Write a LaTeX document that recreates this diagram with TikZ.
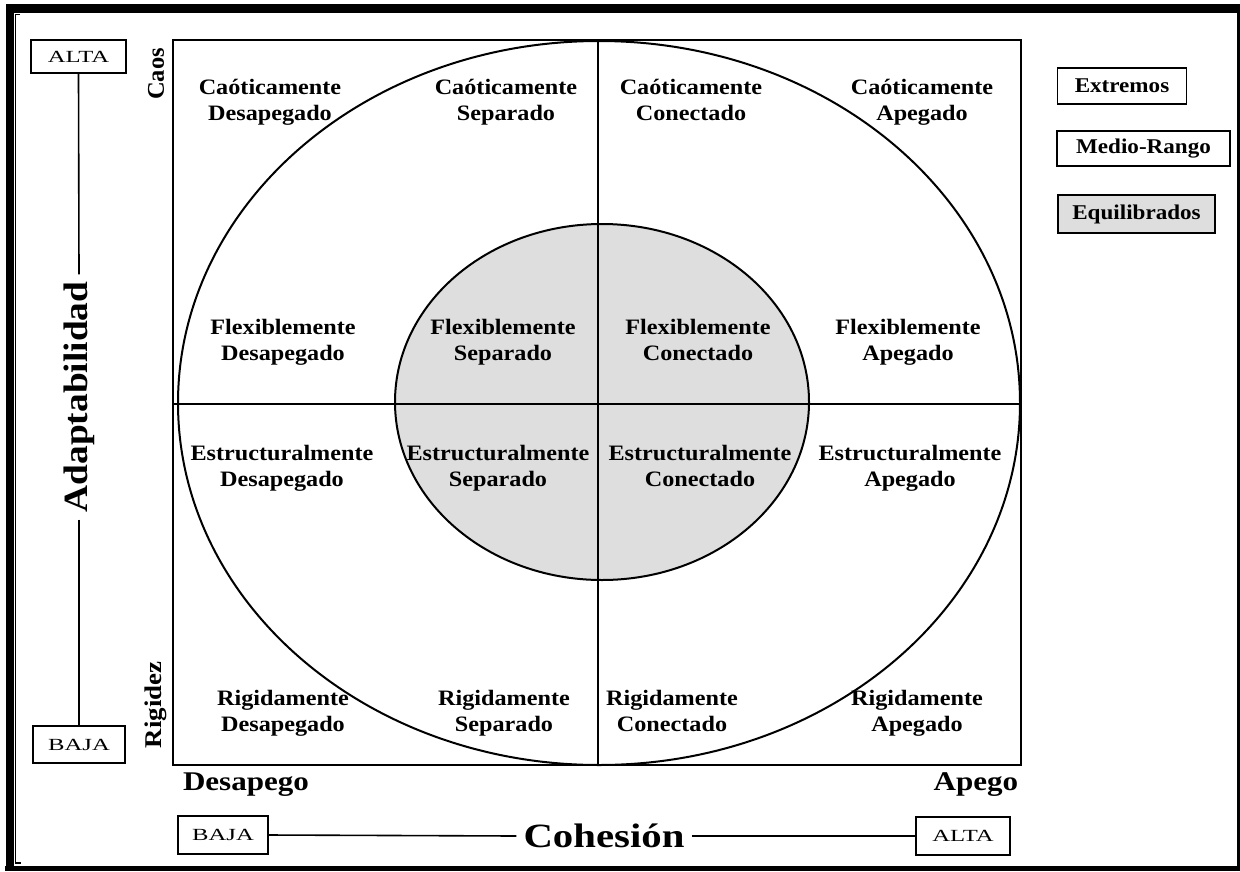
\documentclass[tikz,border=0pt]{standalone}
\usepackage{fontspec}
\setmainfont{Liberation Serif}
\newcommand{\sx}[2][1.1]{\scalebox{#1}[1]{#2}}
\newcommand{\lab}[5]{%
  \node[lbl] (#1a) at (#2,#3+7) {\sx{#4}};
  \node[lbl] (#1b) at (#2,#3+33) {\sx{#5}};}
\begin{document}
\begin{tikzpicture}[x=1pt,y=-1pt,
  lbl/.style={font=\bfseries\fontsize{22}{26}\selectfont, inner sep=0pt, anchor=base},
  legbox/.style={draw, line width=1.4pt, inner sep=0pt, font=\bfseries\fontsize{21}{24}\selectfont},
  axbox/.style={draw, line width=1.4pt, inner sep=0pt, font=\fontsize{17}{19}\selectfont},
  axtitle/.style={font=\bfseries\fontsize{34}{38}\selectfont, inner xsep=7pt, inner ysep=0pt},
  endlbl/.style={font=\bfseries\fontsize{27}{30}\selectfont, inner sep=0pt},
  sidelbl/.style={font=\bfseries\fontsize{24}{26}\selectfont, inner sep=0pt, rotate=90},
  shade/.style={fill=black!13}
]
\useasboundingbox (0,0) rectangle (1240,871);
\fill[white] (0,0) rectangle (1240,871);
% outer frame
\fill[black] (6,4) rectangle (1240,12.5);
\fill[black] (6,4) rectangle (14,871);
\fill[black] (1237,4) rectangle (1240,871);
\fill[black] (5,866) rectangle (1240,871);
\draw[line width=1.5pt] (20,14.5) -- (15.5,14.5) -- (15.5,863) -- (21,863);
% circumplex
\fill[shade] (602,402) ellipse [x radius=207, y radius=178];
\draw[line width=2pt] (599,403) ellipse [x radius=421, y radius=362];
\draw[line width=2pt] (602,402) ellipse [x radius=207, y radius=178];
\draw[line width=2pt] (173,40) rectangle (1021,765);
\draw[line width=1.6pt] (598,40) -- (598,765);
\draw[line width=1.6pt] (173,404) -- (1021,404);
% cell labels
\lab{c11}{270}{87}{Caóticamente}{Desapegado}
\lab{c12}{506}{87}{Caóticamente}{Separado}
\lab{c13}{691}{87}{Caóticamente}{Conectado}
\lab{c14}{922}{87}{Caóticamente}{Apegado}
\lab{c21}{283}{327}{Flexiblemente}{Desapegado}
\lab{c22}{503}{327}{Flexiblemente}{Separado}
\lab{c23}{698}{327}{Flexiblemente}{Conectado}
\lab{c24}{908}{327}{Flexiblemente}{Apegado}
\lab{c31}{282}{453}{Estructuralmente}{Desapegado}
\lab{c32}{498}{453}{Estructuralmente}{Separado}
\lab{c33}{700}{453}{Estructuralmente}{Conectado}
\lab{c34}{910}{453}{Estructuralmente}{Apegado}
\lab{c41}{283}{698}{Rigidamente}{Desapegado}
\lab{c42}{504}{698}{Rigidamente}{Separado}
\lab{c43}{672}{698}{Rigidamente}{Conectado}
\lab{c44}{917}{698}{Rigidamente}{Apegado}
% legend
\node[legbox, minimum width=129pt, minimum height=36pt] (ext) at (1122,86) {\sx{Extremos}};
\node[legbox, minimum width=173pt, minimum height=35pt] (med) at (1143.5,148.5) {\sx{Medio-Rango}};
\node[legbox, shade, minimum width=157pt, minimum height=38pt] (equ) at (1136.5,214) {\sx{Equilibrados}};
% vertical axis
\node[axbox, minimum width=95pt, minimum height=33pt] (altaL) at (78.5,56.5) {\sx[1.45]{ALTA}};
\node[axbox, minimum width=92pt, minimum height=37pt] (bajaL) at (79,744.5) {\sx[1.45]{BAJA}};
\node[axtitle, rotate=90] (adapt) at (79,397) {\sx[1.1]{Adaptabilidad}};
\draw[line width=1.6pt] (altaL.south) -- (adapt.east);
\draw[line width=1.6pt] (adapt.west) -- (bajaL.north);
\node[sidelbl] (caos) at (156,74) {\sx[1.02]{Caos}};
\node[sidelbl] (rig) at (156,705) {\sx[1.12]{Rigidez}};
% horizontal axis
\node[axbox, minimum width=90pt, minimum height=38pt] (bajaB) at (223,835) {\sx[1.45]{BAJA}};
\node[axbox, minimum width=94pt, minimum height=38pt] (altaB) at (963,836) {\sx[1.45]{ALTA}};
\node[axtitle] (coh) at (604,836) {\sx[1.2]{Cohesión}};
\draw[line width=1.6pt] (bajaB.east) -- (coh.west);
\draw[line width=1.6pt] (coh.east) -- (altaB.west);
\node[endlbl] (desap) at (246,785) {\sx[1.15]{Desapego}};
\node[endlbl] (apego) at (976,785) {\sx[1.15]{Apego}};
\end{tikzpicture}
\end{document}
